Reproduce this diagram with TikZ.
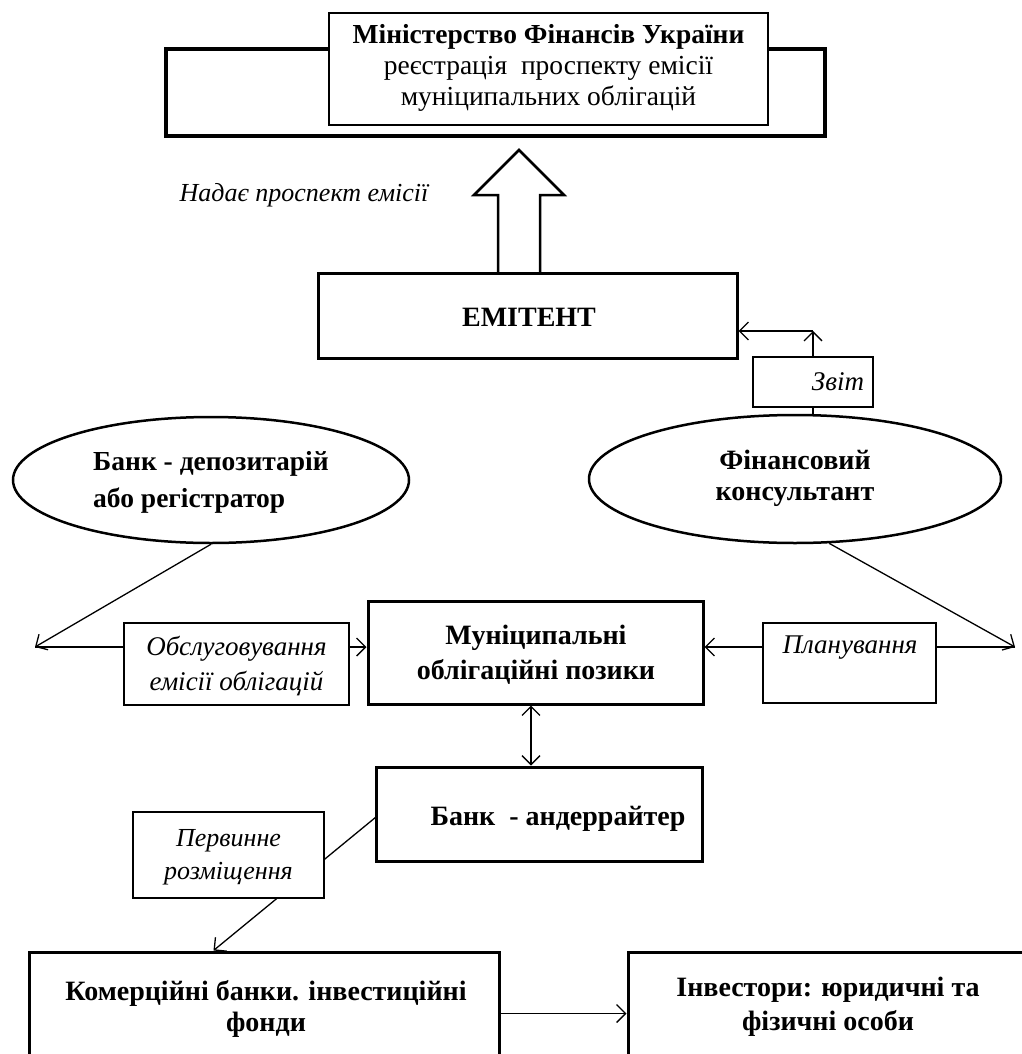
\documentclass[tikz,border=0pt]{standalone}
\usepackage{fontspec}
\setmainfont{Liberation Serif}
\usetikzlibrary{arrows.meta,calc,shapes.geometric}
\begin{document}
\begin{tikzpicture}[x=1pt,y=-1pt,
  thickbox/.style={draw, line width=3pt, inner sep=0pt},
  thinbox/.style={draw, line width=1.5pt, inner sep=0pt, fill=white},
  ell/.style={draw, ellipse, line width=2.5pt, inner sep=0pt},
  conn/.style={line width=1.3pt},
  barb/.tip={Straight Barb[length=9pt,width=18pt,line width=1.3pt]},
  arr/.style={conn, -barb},
  bf/.style={font=\fontsize{28}{33}\selectfont\bfseries, align=center},
  itx/.style={font=\fontsize{27}{33}\selectfont\itshape, align=center},
]
\useasboundingbox (0,0) rectangle (1021,1054);

% top ministry block
\node[thickbox, line width=3.5pt, minimum width=659pt, minimum height=87pt] (minout) at (495.5,92.5) {};
\node[thinbox, minimum width=439pt, minimum height=112pt] (minin) at (548.5,69) {};
\node[font=\fontsize{27.5}{31}\selectfont, align=center] (mintxt) at (548.5,68)
  {{\bfseries Міністерство Фінансів України}\\реєстрація\ \ проспекту емісії\\муніципальних облігацій};

% emitent
\node[thickbox, minimum width=419pt, minimum height=85pt] (emit) at (527.5,315.5) {};
\node[bf] (emittxt) at (529,317) {ЕМІТЕНТ};

% block arrow
\draw[line width=2.5pt, line join=miter] (498,273) -- (498,195) -- (474,195) -- (519,150) -- (564,195) -- (540,195) -- (540,273);
\node[font=\fontsize{26}{33}\selectfont\itshape] (nad) at (304,195) {Надає проспект емісії};

% zvit
\node[thinbox, minimum width=120pt, minimum height=50pt] (zvit) at (813,382) {};
\node[itx] (zvittxt) at (838,382) {Звіт};

% ellipses
\node[ell, minimum width=396pt, minimum height=126pt] (ellL) at (211,480) {};
\node[font=\fontsize{27.5}{37}\selectfont\bfseries, align=left] (ellLtxt) at (211,482) {Банк - депозитарій\\або регістратор};
\node[ell, minimum width=412pt, minimum height=128pt] (ellR) at (795,479) {};
\node[font=\fontsize{28}{31}\selectfont\bfseries, align=center] (ellRtxt) at (795,478) {Фінансовий\\консультант};

% municipal loans
\node[thickbox, minimum width=335pt, minimum height=103pt] (mun) at (535.5,652.5) {};
\node[font=\fontsize{28}{35}\selectfont\bfseries, align=center] (muntxt) at (536,655) {Муніципальні\\облігаційні позики};

% label boxes
\node[thinbox, minimum width=225pt, minimum height=82pt] (obs) at (236.5,664) {};
\node[font=\fontsize{27}{35}\selectfont\itshape, align=center] (obstxt) at (236.5,666.5) {Обслуговування\\емісії облігацій};
\node[thinbox, minimum width=173pt, minimum height=80pt] (plan) at (849.5,663) {};
\node[itx] (plantxt) at (850,648) {Планування};

% underwriter
\node[thickbox, minimum width=326pt, minimum height=94pt] (und) at (539,814) {};
\node[bf] (undtxt) at (558,819) {Банк\ \ - андеррайтер};

% bottom boxes
\node[thickbox, minimum width=470pt, minimum height=123pt] (com) at (264,1013.5) {};
\node[font=\fontsize{28}{31}\selectfont\bfseries, align=center] (comtxt) at (266,1009) {Комерційні банки. інвестиційні\\фонди};
\node[thickbox, minimum width=400pt, minimum height=123pt] (inv) at (828,1013.5) {};
\node[font=\fontsize{28}{34}\selectfont\bfseries, align=center] (invtxt) at (828,1007) {Інвестори: юридичні та\\фізичні особи};

% connectors
\coordinate (cl) at (35,647);
\draw[arr] (ellL.south) -- (cl);
\draw[conn] (cl) -- (cl -| obs.west);
\draw[arr] (cl -| obs.east) -- (cl -| mun.west);

\coordinate (cr) at (1015,647);
\draw[arr] (ellR.-62) -- (cr);
\draw[conn] (cr) -- (cr -| plan.east);
\draw[arr] (cr -| plan.west) -- (cr -| mun.east);

\draw[conn] (zvit.south) -- (zvit.south |- ellR.north);
\coordinate (zc) at (813,331);
\draw[arr] (zvit.north) -- (zc);
\draw[arr] (zc) -- (zc -| emit.east);

\draw[conn, barb-barb] ($(mun.south)+(-4.5,0)$) -- ($(und.north)+(-8,0)$);

\coordinate (ua) at (376,817);
\draw[arr] (ua) -- ($(com.north west)+(186,0)$);
\node[thinbox, minimum width=191pt, minimum height=86pt] (perv) at (228.5,855) {};
\node[font=\fontsize{26}{33}\selectfont\itshape, align=center] (pervtxt) at (228.5,857) {Первинне\\розміщення};

\draw[arr] (com.east) -- (inv.west);
\end{tikzpicture}
\end{document}
